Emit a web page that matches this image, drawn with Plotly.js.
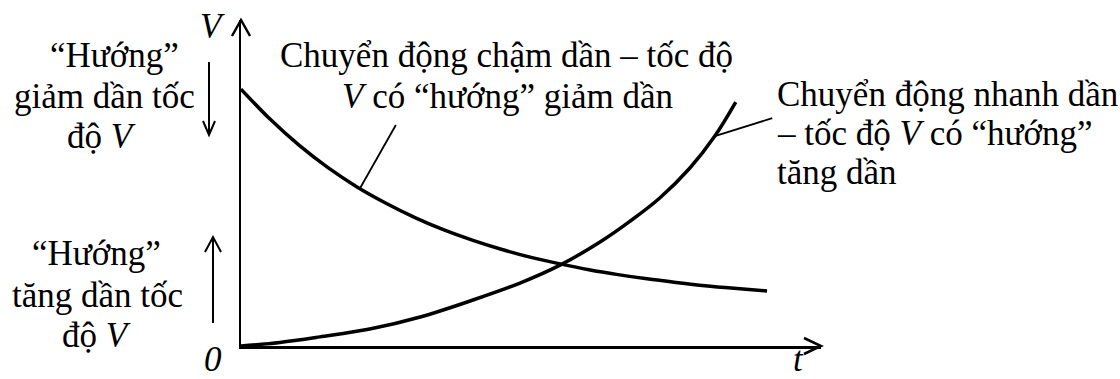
<!DOCTYPE html>
<html>
<head>
<meta charset="utf-8">
<script src="https://cdn.plot.ly/plotly-3.0.1.min.js"></script>
<style>
  html, body { margin: 0; padding: 0; background: #ffffff; }
  #chart { width: 1120px; height: 379px; }
</style>
</head>
<body>
<div id="chart"></div>
<script>
// Slowing motion: speed V falls as time t goes on
const tSlow = [0, 0.5, 1, 1.5, 2, 2.5, 3, 3.5, 4, 4.5, 5, 5.5, 6, 6.5, 7, 7.5, 8, 8.5, 9.07];
const vSlow = [7.88, 6.96, 6.16, 5.47, 4.88, 4.38, 3.94, 3.56, 3.24, 2.96, 2.72, 2.52, 2.34, 2.19, 2.06, 1.95, 1.85, 1.77, 1.69];

// Speeding-up motion: speed V rises as time t goes on
const tFast = [0, 0.67, 1.36, 2.22, 3.09, 4.0, 4.81, 5.5, 6.19, 6.71, 7.22, 7.74, 8.17, 8.53];
const vFast = [0, 0.11, 0.28, 0.52, 0.89, 1.41, 1.93, 2.48, 3.19, 3.83, 4.54, 5.46, 6.44, 7.48];

// Text blocks, one entry per line
const slowLabel = ["Chuyển động chậm dần – tốc độ", "<i>V</i> có “hướng” giảm dần"];
const fastLabel = ["Chuyển động nhanh dần", "– tốc độ <i>V</i> có “hướng”", "tăng dần"];
const downLabel = ["“Hướng”", "giảm dần tốc", "độ <i>V</i>"];
const upLabel = ["“Hướng”", "tăng dần tốc", "độ <i>V</i>"];
const axisNames = { v: "<i>V</i>", t: "<i>t</i>", origin: "<i>0</i>" };

// Plot area geometry (pixels)
const W = 1120, H = 379;
const L = 241, R = 821, T = 20, B = 346;
const px = x => (x - L) / (R - L);   // pixel x -> paper x
const py = y => (B - y) / (B - T);   // pixel y -> paper y

function label(text, x, y, xanchor) {
  return {
    text: text, xref: "paper", yref: "paper",
    x: px(x), y: py(y), xanchor: xanchor || "center", yanchor: "middle",
    showarrow: false, align: xanchor === "left" ? "left" : "center",
    font: { family: "Liberation Serif", size: 35, color: "#000" }
  };
}

const annotations = [];
[55, 96].forEach((y, i) => annotations.push(label(slowLabel[i], [506, 507][i], y)));
[94, 133, 172].forEach((y, i) => annotations.push(label(fastLabel[i], 775, y, "left")));
[55, 96, 136].forEach((y, i) => annotations.push(label(downLabel[i], [114, 104, 101][i], y)));
[253, 295, 335].forEach((y, i) => annotations.push(label(upLabel[i], [96, 97, 96][i], y)));
annotations.push(label(axisNames.v, 212, 27));
annotations.push(label(axisNames.origin, 213, 359));
annotations.push(label(axisNames.t, 798, 359));

// Open chevron arrowheads and small direction arrows, in paper coordinates
function polyline(points, width) {
  const d = points.map((p, i) => (i ? "L" : "M") + px(p[0]) + "," + py(p[1])).join(" ");
  return { type: "path", xref: "paper", yref: "paper", path: d,
           line: { color: "#000", width: width } };
}

const shapes = [
  // axis arrowheads
  polyline([[232, 36], [241, 20], [250, 36]], 2.5),
  polyline([[804, 338], [821, 346], [804, 354]], 2.5),
  // "decreasing" direction arrow
  polyline([[209, 62], [209, 135]], 2),
  polyline([[203, 121], [209, 135], [215, 121]], 2),
  // "increasing" direction arrow
  polyline([[213, 323], [213, 237]], 2),
  polyline([[205, 252], [213, 237], [221, 252]], 2),
  // leader lines from the labels to the curves
  { type: "line", xref: "x", yref: "y", x0: 2.05, y0: 4.83, x1: 2.67, y1: 6.78,
    line: { color: "#000", width: 1.8 } },
  { type: "line", xref: "x", yref: "y", x0: 8.17, y0: 6.44, x1: 9.16, y1: 6.99,
    line: { color: "#000", width: 1.8 } }
];

const traces = [
  { x: tSlow, y: vSlow, mode: "lines", line: { color: "#000", width: 3.5, shape: "spline" },
    cliponaxis: false, hoverinfo: "skip" },
  { x: tFast, y: vFast, mode: "lines", line: { color: "#000", width: 3.5, shape: "spline" },
    cliponaxis: false, hoverinfo: "skip" }
];

const axisStyle = {
  range: [0, 10], showline: true, linecolor: "#000", linewidth: 2.5,
  showgrid: false, zeroline: false, showticklabels: false, ticks: "", fixedrange: true
};

const layout = {
  width: W, height: H,
  margin: { l: L, r: W - R, t: T, b: H - B, pad: 0 },
  paper_bgcolor: "#fff", plot_bgcolor: "#fff",
  showlegend: false,
  xaxis: Object.assign({}, axisStyle),
  yaxis: Object.assign({}, axisStyle),
  annotations: annotations,
  shapes: shapes
};

Plotly.newPlot("chart", traces, layout, { staticPlot: true, displayModeBar: false });
</script>
</body>
</html>
